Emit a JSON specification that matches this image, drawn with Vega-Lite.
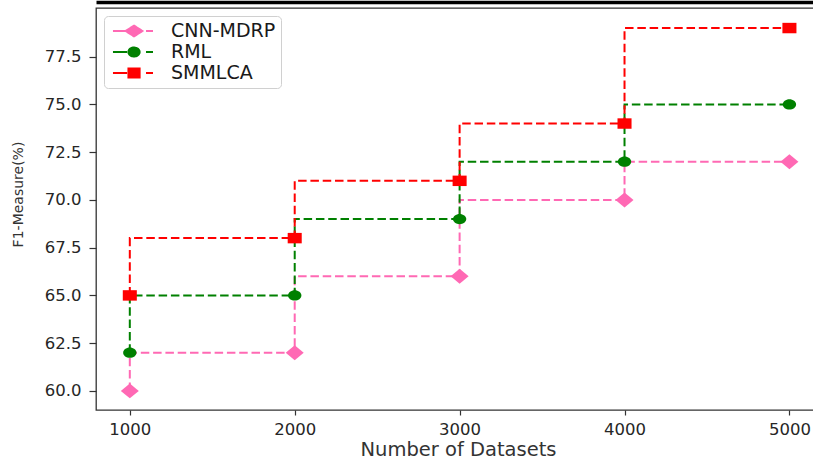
{
  "$schema": "https://vega.github.io/schema/vega-lite/v6.json",
  "autosize": {"type": "none"},
  "padding": {"left": 96, "top": 8, "right": 0, "bottom": 49},
  "width": 718,
  "height": 402,
  "background": "white",
  "config": {
    "font": "DejaVu Sans",
    "view": {"stroke": "#333333", "strokeWidth": 1.3}
  },
  "data": {
    "values": [
      {"series": "CNN-MDRP", "n": 1000, "v": 60},
      {"series": "CNN-MDRP", "n": 2000, "v": 62},
      {"series": "CNN-MDRP", "n": 3000, "v": 66},
      {"series": "CNN-MDRP", "n": 4000, "v": 70},
      {"series": "CNN-MDRP", "n": 5000, "v": 72},
      {"series": "RML", "n": 1000, "v": 62},
      {"series": "RML", "n": 2000, "v": 65},
      {"series": "RML", "n": 3000, "v": 69},
      {"series": "RML", "n": 4000, "v": 72},
      {"series": "RML", "n": 5000, "v": 75},
      {"series": "SMMLCA", "n": 1000, "v": 65},
      {"series": "SMMLCA", "n": 2000, "v": 68},
      {"series": "SMMLCA", "n": 3000, "v": 71},
      {"series": "SMMLCA", "n": 4000, "v": 74},
      {"series": "SMMLCA", "n": 5000, "v": 79}
    ]
  },
  "encoding": {
    "y": {
      "field": "v", "type": "quantitative",
      "scale": {"domain": [59.0, 80.05], "nice": false, "zero": false},
      "axis": {
        "values": [60, 62.5, 65, 67.5, 70, 72.5, 75, 77.5],
        "format": ".1f", "grid": false, "domain": false,
        "labelFontSize": 16.5, "labelColor": "#262626", "labelPadding": 8,
        "tickSize": 7, "tickColor": "#333333", "tickWidth": 1.2,
        "title": "F1-Measure(%)", "titleFontSize": 14, "titleFontWeight": "normal",
        "titleColor": "#333333", "titleX": -78, "titleY": 186, "titleBaseline": "middle", "titleAngle": -90
      }
    }
  },
  "layer": [
    {
      "mark": {"type": "line", "interpolate": "step-before", "strokeWidth": 2, "strokeDash": [8.5, 3.8]},
      "encoding": {
        "x": {
          "field": "n", "type": "quantitative",
          "scale": {"domain": [795, 5149], "nice": false, "zero": false},
          "axis": {
            "values": [1000, 2000, 3000, 4000, 5000], "format": "d", "grid": false, "domain": false,
            "labelFontSize": 16.5, "labelColor": "#262626", "labelPadding": 6,
            "tickSize": 5, "tickColor": "#333333", "tickWidth": 1.2,
            "title": "Number of Datasets", "titleFontSize": 19.5, "titleFontWeight": "normal",
            "titleColor": "#333333", "titleX": 362, "titleY": 45, "titleBaseline": "alphabetic"
          }
        },
        "color": {
          "field": "series", "type": "nominal",
          "scale": {"domain": ["CNN-MDRP", "RML", "SMMLCA"], "range": ["#ff69b4", "#008000", "#ff0000"]},
          "legend": {
            "title": null, "orient": "top-left", "offset": 8, "padding": 5,
            "fillColor": "white", "strokeColor": "#d0d0d0", "cornerRadius": 4,
            "labelFontSize": 19, "labelColor": "#1a1a1a", "labelOffset": 42,
            "symbolSize": 324, "rowPadding": 1,
            "encode": {
              "labels": {
                "update": {
                  "fontSize": {"value": 19},
                  "fill": {"value": "#1a1a1a"}
                }
              },
              "symbols": {
                "update": {
                  "shape": {"signal": "datum.value === 'CNN-MDRP' ? 'M-0.67,0H0.9M1.67,-0.6L2.6,0L1.67,0.6L0.74,0ZM3,0H3.78' : (datum.value === 'RML' ? 'M-0.67,0H0.9M1.05,0A0.62,0.5 0 1 1 2.29,0A0.62,0.5 0 1 1 1.05,0ZM3,0H3.78' : 'M-0.67,0H0.9M1.05,-0.5H2.29V0.5H1.05ZM3,0H3.78')"},
                  "fill": {"scale": "color", "field": "value"},
                  "stroke": {"scale": "color", "field": "value"},
                  "strokeWidth": {"value": 2},
                  "strokeDash": {"value": [1, 0]},
                  "size": {"value": 324},
                  "opacity": {"value": 1},
                  "fillOpacity": {"value": 1},
                  "strokeOpacity": {"value": 1}
                }
              }
            }
          }
        }
      }
    },
    {
      "transform": [{"filter": "datum.series === 'CNN-MDRP'"}],
      "mark": {"type": "point", "filled": true, "opacity": 1, "strokeWidth": 0, "size": 324,
               "color": "#ff69b4", "shape": "M0,-0.83L1,0L0,0.83L-1,0Z"},
      "encoding": {
        "x": {
          "field": "n", "type": "quantitative",
          "axis": {"orient": "top", "labels": false, "ticks": false, "domain": true,
                   "domainColor": "#000000", "domainWidth": 3.5, "offset": 6, "title": null, "grid": false}
        }
      }
    },
    {
      "transform": [{"filter": "datum.series === 'RML'"}],
      "mark": {"type": "point", "filled": true, "opacity": 1, "strokeWidth": 0, "size": 324,
               "color": "#008000", "shape": "M-0.74,0A0.74,0.57 0 1 1 0.74,0A0.74,0.57 0 1 1 -0.74,0Z"},
      "encoding": {
        "x": {"field": "n", "type": "quantitative", "axis": null}
      }
    },
    {
      "transform": [{"filter": "datum.series === 'SMMLCA'"}],
      "mark": {"type": "point", "filled": true, "opacity": 1, "strokeWidth": 0, "size": 324,
               "color": "#ff0000", "shape": "M-0.78,-0.58H0.78V0.58H-0.78Z"},
      "encoding": {
        "x": {"field": "n", "type": "quantitative", "axis": null}
      }
    }
  ],
  "resolve": {"axis": {"x": "independent"}}
}
